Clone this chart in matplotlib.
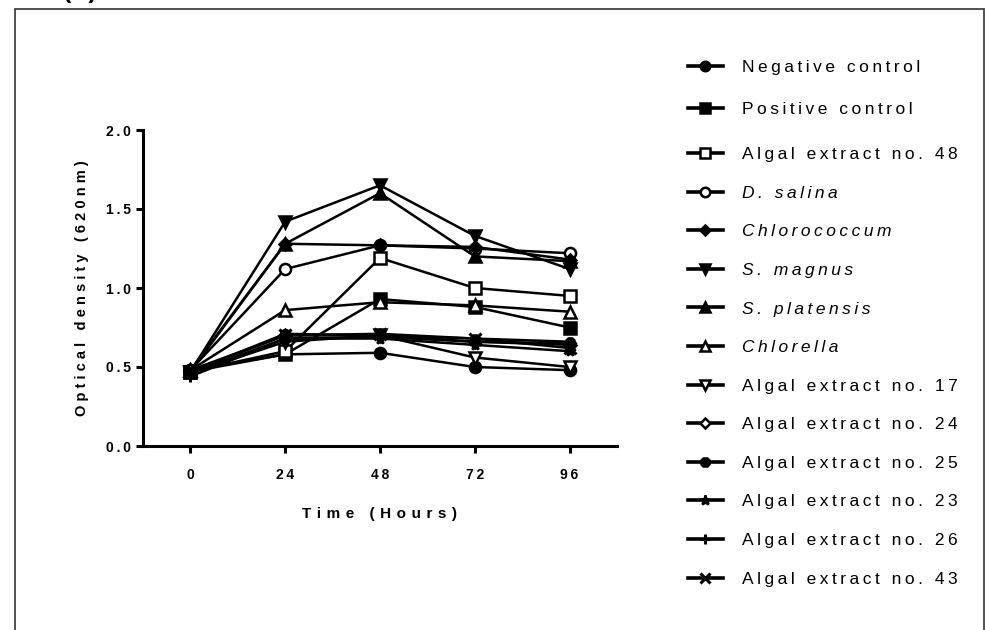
import matplotlib
matplotlib.use('Agg')
import matplotlib.pyplot as plt
from matplotlib.patches import Rectangle
import numpy as np

plt.rcParams['font.family'] = ['Liberation Sans', 'DejaVu Sans']

# sampling times (hours)
hours = [0, 24, 48, 72, 96]

# optical density at 620 nm
neg_control = [0.48, 0.58, 0.59, 0.50, 0.48]
pos_control = [0.47, 0.58, 0.93, 0.88, 0.75]
algal_48 = [0.47, 0.60, 1.19, 1.00, 0.95]
d_salina = [0.48, 1.12, 1.27, 1.25, 1.22]
chlorococcum = [0.47, 1.28, 1.27, 1.26, 1.18]
s_magnus = [0.47, 1.42, 1.65, 1.33, 1.12]
s_platensis = [0.48, 1.28, 1.60, 1.20, 1.17]
chlorella = [0.48, 0.86, 0.91, 0.89, 0.85]
algal_17 = [0.46, 0.66, 0.70, 0.56, 0.50]
algal_24 = [0.48, 0.70, 0.70, 0.66, 0.64]
algal_25 = [0.47, 0.71, 0.70, 0.68, 0.66]
algal_23 = [0.46, 0.68, 0.68, 0.64, 0.60]
algal_26 = [0.44, 0.68, 0.69, 0.66, 0.65]
algal_43 = [0.47, 0.70, 0.71, 0.68, 0.62]

labels = ['Negative control', 'Positive control', 'Algal extract no. 48',
          'D. salina', 'Chlorococcum', 'S. magnus', 'S. platensis', 'Chlorella',
          'Algal extract no. 17', 'Algal extract no. 24', 'Algal extract no. 25',
          'Algal extract no. 23', 'Algal extract no. 26', 'Algal extract no. 43']
italic = {'D. salina', 'Chlorococcum', 'S. magnus', 'S. platensis', 'Chlorella'}
series = [neg_control, pos_control, algal_48, d_salina, chlorococcum, s_magnus,
          s_platensis, chlorella, algal_17, algal_24, algal_25, algal_23,
          algal_26, algal_43]
# (marker, filled, size)
styles = [('o', True, 8), ('s', True, 8), ('s', False, 8), ('o', False, 8),
          ('D', True, 6), ('v', True, 8), ('^', True, 8), ('^', False, 8),
          ('v', False, 8), ('D', False, 6), ('8', True, 7), ('*', True, 8),
          ('+', True, 9), ('x', True, 8)]

THIN = '\u2009'


def spaced(s, sep=THIN):
    return sep.join(list(s))


fig = plt.figure(figsize=(9.86, 6.3), dpi=100)
ax = fig.add_axes([143 / 986, 1 - 446 / 630, (617 - 143) / 986, (446 - 130) / 630])

handles = []
for y, (m, filled, ms) in zip(series, styles):
    fc = 'black' if filled else 'white'
    mew = 2.2 if m in ('+', 'x') else 1.8
    h, = ax.plot(hours, y, color='black', lw=1.8, marker=m, ms=ms,
                 mfc=fc, mec='black', mew=mew)
    handles.append(h)

ax.set_xlim(-12, 108)
ax.set_ylim(0, 2.0)
ax.set_xticks(hours)
ax.set_xticklabels([spaced(str(h)) for h in hours])
ax.set_yticks([0.0, 0.5, 1.0, 1.5, 2.0])
ax.set_yticklabels([spaced(f'{v:.1f}') for v in [0.0, 0.5, 1.0, 1.5, 2.0]])
for lab in ax.get_xticklabels() + ax.get_yticklabels():
    lab.set_fontweight('bold')
    lab.set_fontsize(10)
ax.tick_params(width=2.2, length=5)
ax.tick_params(axis='x', pad=11)
ax.tick_params(axis='y', pad=4)
for side in ('top', 'right'):
    ax.spines[side].set_visible(False)
for side in ('left', 'bottom'):
    ax.spines[side].set_linewidth(2.2)

ax.set_xlabel(spaced('Time (Hours)', ' \u200a'), fontsize=11, fontweight='bold', labelpad=18)
ax.set_ylabel(spaced('Optical density (620nm)', ' '), fontsize=10.5, fontweight='bold', labelpad=12)

leg_kw = dict(loc='upper left', frameon=False, borderpad=0, borderaxespad=0,
              handlelength=2.0, handletextpad=1.1, markerscale=0.85,
              prop={'size': 12.5})
leg1 = fig.legend(handles[:2], [spaced(l) for l in labels[:2]],
                  bbox_to_anchor=(688 / 986, 1 - 60 / 630), labelspacing=1.54, **leg_kw)
leg2 = fig.legend(handles[2:], [spaced(l) for l in labels[2:]],
                  bbox_to_anchor=(688 / 986, 1 - 147 / 630), labelspacing=1.35, **leg_kw)
for leg, labs in ((leg1, labels[:2]), (leg2, labels[2:])):
    for t, l in zip(leg.get_texts(), labs):
        if l in italic:
            t.set_style('italic')
    for lh in leg.legend_handles:
        lh.set_linewidth(2.6)

fig.patches.append(Rectangle((15 / 986, -0.1), 969 / 986, 1.1 - 9 / 630,
                             transform=fig.transFigure, fill=False, lw=1.2, ec='#333333'))
fig.text(80 / 986, 1 + 2 / 630, '(A)', ha='center', va='baseline', fontsize=18, fontweight='bold')

fig.savefig('out.png', dpi=100)
